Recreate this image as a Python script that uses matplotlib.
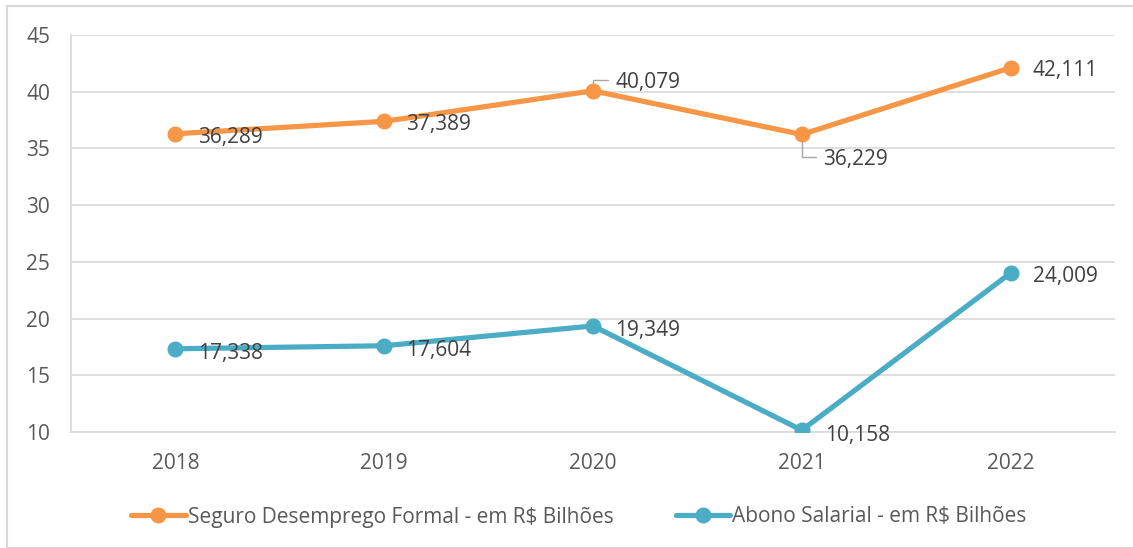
import matplotlib.pyplot as plt
from matplotlib.patches import Rectangle

years = ["2018", "2019", "2020", "2021", "2022"]
seguro = [36.289, 37.389, 40.079, 36.229, 42.111]
abono = [17.338, 17.604, 19.349, 10.158, 24.009]
seguro_labels = ["36,289", "37,389", "40,079", "36,229", "42,111"]
abono_labels = ["17,338", "17,604", "19,349", "10,158", "24,009"]

orange = "#F79646"
blue = "#4BACC6"
label_col = "#404040"
axis_col = "#595959"
grid_col = "#D9D9D9"
fs = 15

plt.rcParams["font.family"] = ["Open Sans", "DejaVu Sans"]

fig = plt.figure(figsize=(11.33, 5.48), dpi=100)
fig.patches.append(Rectangle((7 / 1133, 0), 1, 1 - 6 / 548, transform=fig.transFigure,
                             fill=False, edgecolor=grid_col, linewidth=1.5))
ax = fig.add_axes([71 / 1133, 1 - 432 / 548, (1115 - 71) / 1133, (432 - 35) / 548])

x = range(len(years))
ax.plot(x, seguro, color=orange, lw=3.75, marker="o", ms=10.5, solid_capstyle="round",
        label="Seguro Desemprego Formal - em R$ Bilhões", zorder=3)
ax.plot(x, abono, color=blue, lw=3.75, marker="o", ms=10.5, solid_capstyle="round",
        label="Abono Salarial - em R$ Bilhões", zorder=3)

ax.set_xlim(-0.5, 4.5)
ax.set_ylim(10, 45)
ax.set_yticks(range(10, 46, 5))
ax.set_xticks(list(x))
ax.set_xticklabels(years)
ax.tick_params(length=0, labelsize=fs, colors=axis_col, pad=15)
ax.grid(axis="y", color=grid_col, lw=1.2)
ax.set_axisbelow(True)
for s in ["top", "right"]:
    ax.spines[s].set_visible(False)
for s in ["left", "bottom"]:
    ax.spines[s].set_color(grid_col)
    ax.spines[s].set_linewidth(1.2)

# data labels (offsets in points)
seg_off = [(16, -3), (16, -2.5), (16, 6), (15, -18), (16, -2)]
abo_off = [(16, -3.5), (16, -3.5), (16, -3), (17, -3.5), (16, -2.5)]
for i in x:
    ax.annotate(seguro_labels[i], (i, seguro[i]), xytext=seg_off[i], textcoords="offset points",
                va="center", ha="left", fontsize=fs, color=label_col, zorder=4)
    ax.annotate(abono_labels[i], (i, abono[i]), xytext=abo_off[i], textcoords="offset points",
                va="center", ha="left", fontsize=fs, color=label_col, zorder=4)

# leader lines for 2020 and 2021 labels
for i, end in [(2, (11, 8)), (3, (10, -16))]:
    ax.annotate("", (i, seguro[i]), xytext=end, textcoords="offset points",
                arrowprops=dict(arrowstyle="-", color="#A6A6A6", lw=1,
                                connectionstyle="angle,angleA=0,angleB=90,rad=0",
                                shrinkA=0, shrinkB=0), zorder=2)

fig.legend(loc="center", bbox_to_anchor=(0.511, 1 - 517 / 548), ncol=2, frameon=False,
           fontsize=fs, labelcolor=axis_col, handlelength=2.6, handletextpad=0.1,
           columnspacing=3)

fig.savefig("out.png", dpi=100)
